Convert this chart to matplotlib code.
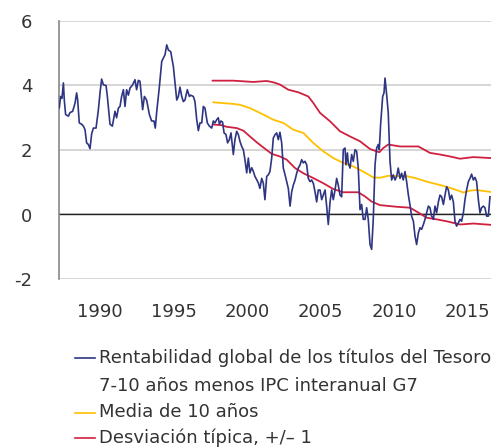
import matplotlib
matplotlib.use("Agg")
import matplotlib.pyplot as plt
from matplotlib.lines import Line2D

# ---- data (decimal years, %) ----
real_yield_t = [1987.23, 1987.32, 1987.41, 1987.51, 1987.57, 1987.66, 1987.85, 1987.96, 1988.14, 1988.30,
                1988.41, 1988.48, 1988.59, 1988.75, 1988.87, 1988.98, 1989.09, 1989.21, 1989.32, 1989.43,
                1989.55, 1989.73, 1989.89, 1990.00, 1990.11, 1990.23, 1990.41, 1990.50, 1990.68, 1990.84,
                1991.02, 1991.13, 1991.25, 1991.36, 1991.47, 1991.59, 1991.70, 1991.81, 1991.93, 1992.04,
                1992.22, 1992.38, 1992.49, 1992.61, 1992.72, 1992.90, 1993.02, 1993.17, 1993.36, 1993.51,
                1993.67, 1993.76, 1993.85, 1994.04, 1994.20, 1994.31, 1994.42, 1994.54, 1994.65, 1994.81,
                1994.99, 1995.10, 1995.22, 1995.33, 1995.44, 1995.56, 1995.67, 1995.78, 1995.94, 1996.08,
                1996.17, 1996.35, 1996.46, 1996.58, 1996.69, 1996.80, 1996.92, 1997.03, 1997.14, 1997.21,
                1997.30, 1997.44, 1997.60, 1997.71, 1997.82, 1997.94, 1998.05, 1998.12, 1998.23, 1998.34,
                1998.44, 1998.57, 1998.68, 1998.80, 1998.91, 1999.07, 1999.18, 1999.30, 1999.41, 1999.52,
                1999.64, 1999.75, 1999.86, 1999.98, 2000.09, 2000.20, 2000.32, 2000.43, 2000.54, 2000.66,
                2000.77, 2000.88,
                2001.00, 2001.11, 2001.22, 2001.34, 2001.45, 2001.56, 2001.68, 2001.79, 2001.90, 2002.02,
                2002.13, 2002.24, 2002.36, 2002.47, 2002.59, 2002.70, 2002.81, 2002.93, 2003.04, 2003.15,
                2003.27, 2003.38, 2003.49, 2003.61, 2003.72, 2003.83, 2003.95, 2004.06, 2004.17, 2004.29,
                2004.40, 2004.51, 2004.63, 2004.74, 2004.85, 2004.97, 2005.08, 2005.19, 2005.31, 2005.42,
                2005.53, 2005.65, 2005.76, 2005.87, 2005.99, 2006.10, 2006.21, 2006.33, 2006.44, 2006.55,
                2006.67, 2006.73, 2006.83, 2006.89, 2007.01, 2007.12, 2007.23, 2007.35, 2007.46, 2007.57,
                2007.69, 2007.80, 2007.91, 2008.03, 2008.14, 2008.25, 2008.37, 2008.48, 2008.59, 2008.71,
                2008.82, 2008.93, 2009.00, 2009.09, 2009.23, 2009.32, 2009.39, 2009.50, 2009.61, 2009.73,
                2009.84, 2009.95, 2010.07, 2010.18, 2010.29, 2010.41, 2010.52, 2010.63, 2010.75, 2010.86,
                2010.98, 2011.09, 2011.20, 2011.32, 2011.43, 2011.54, 2011.66, 2011.77, 2011.88, 2012.00,
                2012.11, 2012.22, 2012.34, 2012.45, 2012.56, 2012.68, 2012.79, 2012.90, 2013.02, 2013.13,
                2013.24, 2013.36, 2013.47, 2013.58, 2013.70, 2013.81, 2013.92, 2014.04, 2014.15, 2014.26,
                2014.38, 2014.49, 2014.60, 2014.72, 2014.83, 2014.94, 2015.06, 2015.17, 2015.28, 2015.40,
                2015.51, 2015.62, 2015.74, 2015.85, 2015.96, 2016.08, 2016.19, 2016.30, 2016.42, 2016.53]
real_yield_v = [3.31, 3.66, 3.60, 4.08, 3.55, 3.10, 3.05, 3.16, 3.20, 3.45,
                3.77, 3.55, 2.84, 2.80, 2.74, 2.63, 2.22, 2.17, 2.04, 2.50,
                2.68, 2.68, 3.25, 3.77, 4.20, 4.02, 4.00, 3.66, 2.80, 2.74,
                3.20, 3.00, 3.30, 3.35, 3.66, 3.87, 3.35, 3.87, 3.70, 3.92,
                4.02, 4.18, 3.87, 4.16, 4.13, 3.25, 3.66, 3.55, 3.10, 2.90,
                2.90, 2.68, 3.15, 3.97, 4.75, 4.85, 4.95, 5.26, 5.10, 5.05,
                4.59, 4.08, 3.55, 3.66, 3.95, 3.66, 3.50, 3.55, 3.87, 3.66,
                3.70, 3.66, 3.50, 2.94, 2.60, 2.84, 2.84, 3.35, 3.30, 3.10,
                2.84, 2.74, 2.68, 2.90, 2.84, 2.94, 3.00, 2.80, 2.90, 2.86,
                2.53, 2.48, 2.22, 2.32, 2.53, 1.86, 2.32, 2.58, 2.48, 2.27,
                2.11, 2.01, 1.70, 1.29, 1.75, 1.29, 1.45, 1.34, 1.18, 1.08,
                0.98, 0.81,
                1.12, 0.97, 0.46, 1.18, 1.23, 1.33, 1.75, 2.37, 2.47, 2.53,
                2.32, 2.55, 2.22, 1.44, 1.23, 1.02, 0.81, 0.26, 0.70, 0.91,
                1.07, 1.28, 1.44, 1.54, 1.70, 1.60, 1.65, 1.54, 1.12, 1.02,
                1.07, 0.97, 0.70, 0.39, 0.76, 0.76, 0.46, 0.60, 0.76, 0.26,
                -0.31, 0.39, 0.76, 0.46, 0.76, 1.12, 0.91, 0.60, 0.55, 2.01,
                2.06, 1.54, 1.91, 1.60, 1.44, 1.86, 1.65, 2.01, 1.96, 1.44,
                0.15, 0.31, -0.15, -0.15, 0.21, -0.15, -0.93, -1.08, -0.15, 1.54,
                2.06, 2.17, 2.01, 2.79, 3.66, 3.77, 4.23, 3.72, 3.15, 1.65,
                1.07, 1.23, 1.07, 1.18, 1.44, 1.12, 1.28, 1.07, 1.33, 1.02,
                0.60, 0.29, -0.05, -0.21, -0.67, -0.93, -0.57, -0.41, -0.46, -0.31,
                -0.15, 0.05, 0.26, 0.21, -0.05, -0.15, 0.26, 0.05, 0.39, 0.60,
                0.55, 0.31, 0.60, 0.86, 0.76, 0.46, 0.60, 0.39, -0.21, -0.36,
                -0.26, -0.15, -0.21, 0.05, 0.46, 0.76, 1.02, 1.12, 1.25, 1.07,
                1.15, 1.02, 0.46, 0.05, 0.21, 0.26, 0.21, -0.05, -0.05, 0.55]

mean_t = [1997.71, 1998.50, 1999.07, 1999.52, 2000.20, 2000.88, 2001.79, 2002.47, 2003.15, 2003.83,
          2004.51, 2005.19, 2005.87, 2006.55, 2007.23, 2007.91, 2008.59, 2009.05, 2009.61, 2010.18,
          2010.86, 2011.54, 2012.22, 2012.90, 2013.58, 2014.26, 2014.72, 2015.17, 2015.62, 2016.08, 2016.58]
mean_v = [3.48, 3.45, 3.43, 3.40, 3.30, 3.15, 2.94, 2.84, 2.63, 2.53,
          2.22, 1.96, 1.75, 1.60, 1.49, 1.33, 1.15, 1.14, 1.20, 1.19,
          1.19, 1.12, 1.02, 0.94, 0.86, 0.76, 0.68, 0.74, 0.76, 0.73, 0.70]

upper_t = [1997.66, 1999.07, 2000.43, 2001.34, 2001.79, 2002.24, 2002.81, 2003.49, 2004.17, 2004.51,
           2004.97, 2005.65, 2006.33, 2007.01, 2007.69, 2008.37, 2009.00, 2009.27, 2009.61, 2010.41,
           2011.66, 2012.45, 2013.13, 2013.81, 2014.49, 2015.40, 2016.58]
upper_v = [4.15, 4.15, 4.11, 4.14, 4.10, 4.03, 3.87, 3.79, 3.66, 3.46,
           3.15, 2.89, 2.58, 2.42, 2.27, 2.03, 1.93, 2.06, 2.17, 2.11,
           2.11, 1.91, 1.86, 1.80, 1.73, 1.78, 1.75]

lower_t = [1997.71, 1998.27, 1998.61, 1999.30, 1999.75, 2000.20, 2000.66, 2000.88, 2001.68, 2002.24,
           2002.70, 2003.27, 2003.83, 2004.51, 2005.19, 2005.87, 2006.55, 2007.57, 2008.03, 2008.48,
           2009.05, 2010.18, 2011.09, 2011.77, 2012.22, 2012.90, 2013.58, 2014.49, 2015.40, 2016.58]
lower_v = [2.79, 2.77, 2.72, 2.68, 2.60, 2.42, 2.24, 2.16, 1.88, 1.80,
           1.70, 1.44, 1.28, 1.13, 0.97, 0.79, 0.69, 0.69, 0.56, 0.40,
           0.29, 0.24, 0.21, 0.03, -0.10, -0.15, -0.21, -0.31, -0.28, -0.32]

x_ticks = [1990, 1995, 2000, 2005, 2010, 2015]
y_ticks = [-2, 0, 2, 4, 6]
labels = ["Rentabilidad global de los títulos del Tesoro\n7-10 años menos IPC interanual G7",
          "Media de 10 años",
          "Desviación típica, +/– 1"]

NAVY = "#2E3582"
YELLOW = "#FFC000"
RED = "#D0203F"
TXT = "#333333"

W, H = 503, 448
fig = plt.figure(figsize=(W / 100, H / 100), dpi=100)
ax = fig.add_axes([59 / W, 1 - 279 / H, (491 - 59) / W, (279 - 21) / H])

ax.plot(real_yield_t, real_yield_v, color=NAVY, lw=1.2, zorder=4)
ax.plot(mean_t, mean_v, color=YELLOW, lw=1.3, zorder=3)
ax.plot(upper_t, upper_v, color=RED, lw=1.3, zorder=3)
ax.plot(lower_t, lower_v, color=RED, lw=1.3, zorder=3)
ax.axhline(0, color="#222222", lw=1.0, zorder=2)

ax.set_xlim(1987.21, 2016.6)
ax.set_ylim(-2, 6)
ax.set_xticks(x_ticks)
ax.set_xticklabels([str(v) for v in x_ticks])
ax.set_yticks(y_ticks)
ax.set_yticklabels([str(v) for v in y_ticks])
ax.grid(axis="y", color="#D0D0D0", lw=1.2, zorder=0)
ax.tick_params(axis="both", length=0, labelsize=13, colors=TXT)
ax.tick_params(axis="x", pad=17)
ax.tick_params(axis="y", pad=19)
for s in ["top", "right", "bottom"]:
    ax.spines[s].set_visible(False)
ax.spines["left"].set_color("#888888")
ax.spines["left"].set_linewidth(1.2)

# legend (manual, below chart)
leg_colors = [NAVY, YELLOW, RED]
leg_rows = [358, 413, 438]
for c, lab, yy in zip(leg_colors, labels, leg_rows):
    fig.add_artist(Line2D([75 / W, 95 / W], [1 - yy / H, 1 - yy / H], color=c, lw=1.2))
    fig.text(99 / W, 1 - (yy - 10) / H, lab, ha="left", va="top", fontsize=13,
             family="DejaVu Sans", color=TXT, linespacing=1.75)

fig.savefig("out.png", dpi=100)
